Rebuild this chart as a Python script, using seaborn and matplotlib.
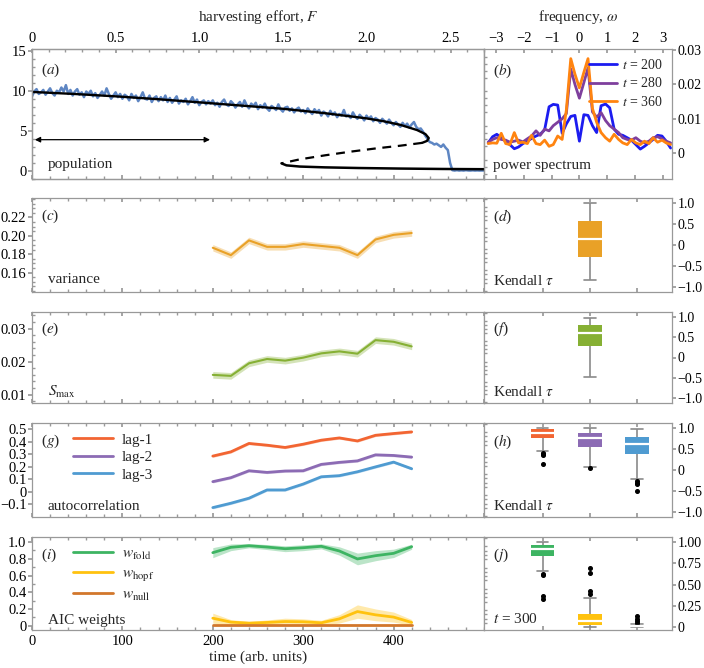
import numpy as np
import pandas as pd
import seaborn as sns
import matplotlib.pyplot as plt
from matplotlib.ticker import MultipleLocator

# (a) simulated population (every 2.5 time units) and bifurcation branches
pop_t = [i * 2.5 for i in range(201)]
pop_n = [9.3, 9.9, 10.2, 9.6, 9.8, 10.1, 9.5, 9.9, 10.3, 9.7, 9.4, 10.0, 9.8, 10.4, 9.9, 10.7, 9.6, 10.1, 9.4, 9.9,
         10.2, 9.5, 9.8, 9.2, 9.9, 9.6, 10.0, 9.3, 9.7, 9.1, 9.5, 9.9, 9.4, 10.3, 9.6, 9.0, 9.4, 9.8, 9.2, 9.6,
         9.0, 9.5, 9.3, 8.8, 9.6, 9.1, 9.4, 8.7, 9.2, 9.8, 9.0, 8.9, 9.4, 8.6, 9.1, 9.3, 8.7, 9.2, 8.8, 9.4,
         8.6, 9.1, 8.5, 8.9, 9.3, 8.4, 8.8, 8.6, 9.0, 8.3, 8.7, 9.2, 8.5, 8.9, 8.2, 8.6, 8.8, 8.3, 8.7, 8.4,
         8.8, 8.2, 8.5, 8.0, 8.6, 8.9, 8.3, 8.1, 8.7, 8.4, 7.9, 8.3, 8.6, 8.0, 8.8, 8.2, 7.8, 8.4, 8.1, 8.5,
         7.7, 8.2, 7.9, 8.4, 7.8, 7.5, 8.1, 7.9, 7.6, 8.3, 7.7, 7.4, 7.9, 8.0, 7.5, 7.8, 7.3, 7.7, 7.9, 7.4,
         7.6, 7.2, 7.8, 7.4, 7.1, 7.7, 7.3, 7.6, 6.9, 7.4, 7.2, 6.8, 7.5, 7.0, 7.3, 6.7, 7.1, 6.9, 7.6, 6.8,
         7.0, 6.6, 7.3, 6.8, 6.5, 7.0, 6.7, 6.3, 6.9, 6.5, 6.8, 6.2, 6.6, 6.4, 6.0, 6.5, 6.2, 5.9, 6.4, 6.0,
         5.7, 6.1, 5.8, 5.5, 6.0, 5.6, 5.9, 5.4, 5.8, 6.1, 5.5, 5.2, 5.3, 4.9, 4.4, 4.0, 3.6, 3.5, 3.3, 3.4,
         3.2, 3.0, 3.3, 2.9, 2.6, 1.0, 0.1, 0.05, 0.1, 0.05, 0.08, 0.05, 0.1, 0.06, 0.05, 0.08, 0.05, 0.07, 0.05, 0.06,
         0.05]
upper_F = [0, 0.25, 0.5, 0.75, 1.0, 1.25, 1.5, 1.75, 2.0, 2.1, 2.2, 2.3, 2.35, 2.37, 2.36, 2.33]
upper_N = [9.85, 9.6, 9.3, 8.95, 8.55, 8.15, 7.75, 7.2, 6.55, 6.2, 5.75, 5.1, 4.6, 4.1, 3.75, 3.5]
unstable_F = [2.33, 2.2, 2.05, 1.9, 1.75, 1.6, 1.49]
unstable_N = [3.5, 3.15, 2.8, 2.4, 1.95, 1.45, 0.95]
lower_F = [1.49, 1.52, 1.6, 1.75, 1.95, 2.2, 2.45, 2.7]
lower_N = [0.95, 0.7, 0.55, 0.45, 0.37, 0.3, 0.25, 0.22]
window = [0, 200]

# (b) power spectra (x 1e-3)
omega = [-3.28, -3.12, -2.97, -2.81, -2.65, -2.50, -2.34, -2.19, -2.03, -1.87, -1.72,
         -1.56, -1.41, -1.25, -1.09, -0.94, -0.78, -0.62, -0.47, -0.31, -0.16, 0.0,
         0.16, 0.31, 0.47, 0.62, 0.78, 0.94, 1.09, 1.25, 1.41, 1.56, 1.72, 1.87,
         2.03, 2.19, 2.34, 2.50, 2.65, 2.81, 2.97, 3.12, 3.28]
spec_200 = [3.0, 4.8, 5.5, 4.5, 3.5, 2.5, 1.3, 1.8, 2.8, 3.5, 4.3,
            5.0, 5.5, 6.8, 13.5, 14.2, 14.0, 5.8, 8.5, 10.7, 11.0, 3.5,
            11.2, 11.0, 8.0, 6.0, 13.8, 14.3, 13.2, 7.0, 5.5, 5.2, 4.5, 3.8,
            2.5, 1.2, 2.0, 3.0, 4.0, 5.2, 5.0, 3.5, 1.5]
spec_280 = [3.2, 4.0, 4.5, 4.0, 3.8, 3.2, 3.5, 3.8, 3.3, 4.2, 5.0,
            6.5, 5.2, 7.0, 6.5, 8.0, 9.0, 10.0, 11.5, 24.5, 20.0, 16.0,
            20.5, 24.8, 12.0, 10.5, 11.8, 9.5, 8.0, 7.0, 6.0, 4.5, 4.0, 3.8,
            4.5, 3.5, 3.0, 3.5, 4.5, 4.8, 4.2, 3.5, 3.0]
spec_360 = [2.8, 3.0, 2.9, 5.8, 2.8, 2.5, 6.0, 3.0, 3.2, 2.8, 5.2,
            2.8, 2.5, 3.8, 2.0, 2.5, 5.0, 4.0, 12.5, 27.5, 23.0, 19.0,
            23.5, 27.5, 13.0, 9.0, 6.0, 4.5, 3.5, 5.5, 4.0, 3.0, 2.5, 4.0,
            3.0, 2.5, 3.5, 2.8, 4.5, 3.2, 3.8, 3.0, 2.5]

# (c, e, g, i) indicators on the rolling window
ews_t = [200, 220, 240, 260, 280, 300, 320, 340, 360, 380, 400, 420]
variance = [0.187, 0.179, 0.195, 0.188, 0.188, 0.191, 0.189, 0.187, 0.179, 0.196, 0.201, 0.203]
smax = [0.0160, 0.0157, 0.0195, 0.0208, 0.0203, 0.0212, 0.0225, 0.0231, 0.0224, 0.0265, 0.0260, 0.0246]
lag1 = [0.286, 0.320, 0.387, 0.373, 0.355, 0.381, 0.413, 0.431, 0.407, 0.452, 0.466, 0.479]
lag2 = [0.082, 0.114, 0.169, 0.156, 0.167, 0.169, 0.220, 0.236, 0.248, 0.296, 0.291, 0.278]
lag3 = [-0.125, -0.090, -0.050, 0.016, 0.016, 0.063, 0.121, 0.130, 0.161, 0.200, 0.238, 0.185]
w_fold = [0.873, 0.937, 0.956, 0.940, 0.920, 0.932, 0.949, 0.893, 0.798, 0.837, 0.865, 0.944]
w_fold_err = [0.06, 0.04, 0.025, 0.03, 0.035, 0.035, 0.03, 0.05, 0.07, 0.06, 0.05, 0.03]
w_hopf = [0.091, 0.044, 0.032, 0.040, 0.051, 0.048, 0.036, 0.083, 0.170, 0.131, 0.104, 0.040]
w_hopf_err = [0.06, 0.03, 0.02, 0.03, 0.04, 0.035, 0.03, 0.05, 0.08, 0.07, 0.06, 0.035]
w_null = [0.005] * 12

# Kendall tau distributions
tau_var = [-0.83, -0.29, 0.15, 0.57, 1.0]
tau_smax = [-0.47, 0.29, 0.61, 0.81, 0.97]
tau_lag1 = [0.15, 0.36, 0.38, 0.40, 0.45, 0.76, 0.80, 0.83, 0.85, 0.87, 0.89,
            0.91, 0.93, 0.94, 0.96, 0.97, 0.98, 0.99, 0.99, 1.0, 1.0]
tau_lag2 = [0.05, 0.08, 0.30, 0.45, 0.52, 0.56, 0.62, 0.67, 0.71, 0.74, 0.77,
            0.79, 0.82, 0.85, 0.87, 0.885, 0.91, 0.94, 0.97, 0.99, 1.0]
tau_lag3 = [-0.50, -0.34, -0.30, -0.26, -0.21, 0.38, 0.44, 0.50, 0.55, 0.58, 0.61,
            0.64, 0.68, 0.72, 0.76, 0.79, 0.83, 0.87, 0.91, 0.95, 0.97]
aic_fold = [0.33, 0.37, 0.61, 0.63, 0.66, 0.84, 0.86, 0.88, 0.89, 0.91, 0.92,
            0.93, 0.94, 0.95, 0.96, 0.965, 0.97, 0.98, 0.99, 0.995, 1.0]
aic_hopf = [0.0, 0.005, 0.01, 0.015, 0.018, 0.02, 0.03, 0.04, 0.05, 0.06, 0.07,
            0.08, 0.10, 0.12, 0.14, 0.15, 0.34, 0.39, 0.42, 0.64, 0.69]
aic_null = [0.0, 0.0, 0.001, 0.002, 0.0025, 0.003, 0.004, 0.005, 0.006, 0.007, 0.008,
            0.01, 0.012, 0.014, 0.016, 0.018, 0.035, 0.05, 0.07, 0.09, 0.13]

c_var, c_smax = '#E9A127', '#86B034'
c_lag = {'lag-1': '#F26532', 'lag-2': '#8C6BB4', 'lag-3': '#4F9BD1'}
c_aic = {'fold': '#3DB462', 'hopf': '#FFC20F', 'null': '#D2772B'}

sns.set_theme(style='ticks')
plt.rcParams['font.family'] = ['Liberation Serif', 'DejaVu Serif']
plt.rcParams['mathtext.fontset'] = 'stix'
plt.rcParams['axes.edgecolor'] = '#999999'
plt.rcParams['axes.linewidth'] = 0.9
plt.rcParams['xtick.color'] = '#999999'
plt.rcParams['ytick.color'] = '#999999'
plt.rcParams['xtick.labelcolor'] = 'black'
plt.rcParams['ytick.labelcolor'] = 'black'
plt.rcParams['xtick.labelsize'] = 10.5
plt.rcParams['ytick.labelsize'] = 10.5

fig = plt.figure(figsize=(7.04, 6.68), dpi=100)
W, H = 704, 668


def add(x0, y0, x1, y1):
    return fig.add_axes([x0 / W, 1 - y1 / H, (x1 - x0) / W, (y1 - y0) / H])


rows = [(49, 179), (198, 292), (312, 403), (423, 517), (537, 630)]
left = [add(32, r[0], 484, r[1]) for r in rows]
right = [add(484, r[0], 672, r[1]) for r in rows]
FS = 11


def tag(ax, s, x=0.02, y=0.9):
    ax.text(x, y, r'($\mathit{' + s + '}$)', transform=ax.transAxes, fontsize=FS, va='top')


def note(ax, s, x=0.04, y=0.05):
    ax.text(x, y, s, transform=ax.transAxes, fontsize=FS, va='bottom')


def style_left(ax, yt, ylab, ylim, yminor, last=False):
    ax.set_xlim(0, 500)
    ax.set_ylim(*ylim)
    ax.xaxis.set_major_locator(MultipleLocator(100))
    ax.xaxis.set_minor_locator(MultipleLocator(20))
    ax.tick_params(axis='x', which='both', direction='in', top=True, bottom=True,
                   labelbottom=last, length=3)
    ax.tick_params(axis='x', which='minor', length=2)
    ax.set_yticks(yt, ylab)
    if yminor:
        ax.yaxis.set_minor_locator(MultipleLocator(yminor))
    ax.tick_params(axis='y', which='major', direction='out', length=3, pad=1)
    ax.tick_params(axis='y', which='minor', direction='in', length=2)
    ax.set(xlabel='', ylabel='')


def style_right(ax, yt, ylab, ylim, yminor):
    ax.set_ylim(*ylim)
    ax.yaxis.tick_right()
    ax.set_yticks(yt, ylab)
    ax.yaxis.set_minor_locator(MultipleLocator(yminor))
    ax.tick_params(axis='y', which='major', direction='out', length=3, pad=1, right=True,
                   left=False, labelsize=10)
    ax.tick_params(axis='y', which='minor', direction='in', length=2, left=True, right=False)
    ax.set(xlabel='', ylabel='')


# ---- (a)
ax = left[0]
sns.lineplot(x=pop_t, y=pop_n, color='#5E86C3', lw=1.8, ax=ax)
style_left(ax, [0, 5, 10, 15], ['0', '5', '10', '15'], (-1, 15.2), 1)
ax.annotate('', xy=(window[0], 3.9), xytext=(window[1], 3.9),
            arrowprops=dict(arrowstyle='<|-|>', color='black', lw=0.9, mutation_scale=8))
tag(ax, 'a')
note(ax, 'population', 0.035, 0.06)
axF = ax.twiny()
sns.lineplot(x=upper_F, y=upper_N, sort=False, estimator=None, color='black', lw=1.7, ax=axF)
sns.lineplot(x=unstable_F, y=unstable_N, sort=False, estimator=None, color='black', lw=1.6,
             linestyle=(0, (4, 3)), ax=axF)
sns.lineplot(x=lower_F, y=lower_N, sort=False, estimator=None, color='black', lw=1.8, ax=axF)
axF.set_xlim(0, 2.7)
axF.set_xticks([0, 0.5, 1.0, 1.5, 2.0, 2.5], ['0', '0.5', '1.0', '1.5', '2.0', '2.5'])
axF.xaxis.set_minor_locator(MultipleLocator(0.1))
axF.tick_params(axis='x', which='both', direction='in', length=3, pad=3)
axF.tick_params(axis='x', which='minor', length=2)
axF.set_xlabel('harvesting effort, $F$', fontsize=FS, labelpad=8)

# ---- (b)
ax = right[0]
spec = pd.DataFrame({'omega': omega * 3,
                     'power': [v / 1000 for v in spec_200 + spec_280 + spec_360],
                     't': ['$t$ = 200'] * 43 + ['$t$ = 280'] * 43 + ['$t$ = 360'] * 43})
sns.lineplot(data=spec, x='omega', y='power', hue='t', sort=False, estimator=None,
             palette=['#1C1CF0', '#7E3F9D', '#FF8410'], lw=2, ax=ax)
sns.move_legend(ax, 'upper right', bbox_to_anchor=(1.02, 1.03), frameon=False, title=None,
                fontsize=10, handlelength=2.0, labelspacing=0.35, handletextpad=0.4)
ax.set_xlim(-3.43, 3.33)
ax.xaxis.tick_top()
ax.set_xticks([-3, -2, -1, 0, 1, 2, 3], ['\u22123', '\u22122', '\u22121', '0', '1', '2', '3'])
ax.xaxis.set_label_position('top')
ax.tick_params(axis='x', which='both', direction='in', top=True, bottom=True, length=3, pad=3)
style_right(ax, [0, 0.01, 0.02, 0.03], ['0', '0.01', '0.02', '0.03'], (-0.0075, 0.0303), 0.002)
ax.set_xlabel('frequency, $\\omega$', fontsize=FS, labelpad=8)
tag(ax, 'b', 0.05)
note(ax, 'power spectrum', 0.05, 0.05)

# ---- (c) variance, (e) Smax
ax = left[1]
sns.lineplot(x=ews_t, y=variance, color=c_var, lw=1.5, ax=ax)
ax.fill_between(ews_t, [v - 0.0035 for v in variance], [v + 0.0035 for v in variance],
                color=c_var, alpha=0.35, lw=0)
style_left(ax, [0.16, 0.18, 0.20, 0.22], ['0.16', '0.18', '0.20', '0.22'], (0.139, 0.241), 0.005)
tag(ax, 'c')
note(ax, 'variance', 0.035, 0.06)

ax = left[2]
sns.lineplot(x=ews_t, y=smax, color=c_smax, lw=1.5, ax=ax)
ax.fill_between(ews_t, [v - 0.001 for v in smax], [v + 0.001 for v in smax],
                color=c_smax, alpha=0.35, lw=0)
style_left(ax, [0.01, 0.02, 0.03], ['0.01', '0.02', '0.03'], (0.0075, 0.035), 0.002)
tag(ax, 'e')
note(ax, '$S_{\\mathrm{max}}$', 0.035, 0.03)

# ---- (g) autocorrelation
ax = left[3]
for name, vals in zip(['lag-1', 'lag-2', 'lag-3'], [lag1, lag2, lag3]):
    sns.lineplot(x=ews_t, y=vals, color=c_lag[name], lw=2, label=name, ax=ax)
    ax.fill_between(ews_t, [v - 0.01 for v in vals], [v + 0.01 for v in vals],
                    color=c_lag[name], alpha=0.35, lw=0)
ax.legend(loc='upper left', bbox_to_anchor=(0.06, 1.04), frameon=False, fontsize=11,
          handlelength=2.6, labelspacing=0.25, handletextpad=0.6)
style_left(ax, [-0.1, 0, 0.1, 0.2, 0.3, 0.4, 0.5],
           ['\u22120.1', '0', '0.1', '0.2', '0.3', '0.4', '0.5'], (-0.2, 0.55), None)
tag(ax, 'g')
note(ax, 'autocorrelation', 0.035, 0.04)

# ---- (i) AIC weights
ax = left[4]
for name, vals, err in zip(['fold', 'hopf', 'null'], [w_fold, w_hopf, w_null],
                           [w_fold_err, w_hopf_err, [0.003] * 12]):
    sns.lineplot(x=ews_t, y=vals, color=c_aic[name], lw=2,
                 label='$w_{\\mathrm{' + name + '}}$', ax=ax)
    ax.fill_between(ews_t, [v - e for v, e in zip(vals, err)], [v + e for v, e in zip(vals, err)],
                    color=c_aic[name], alpha=0.35, lw=0)
ax.legend(loc='upper left', bbox_to_anchor=(0.06, 1.04), frameon=False, fontsize=11,
          handlelength=2.6, labelspacing=0.3, handletextpad=0.6)
style_left(ax, [0, 0.2, 0.4, 0.6, 0.8, 1.0], ['0', '0.2', '0.4', '0.6', '0.8', '1.0'],
           (-0.05, 1.06), 0.1, last=True)
ax.set_xticks([0, 100, 200, 300, 400], ['0', '100', '200', '300', '400'])
ax.set_xlabel('time (arb. units)', fontsize=FS, labelpad=2)
tag(ax, 'i')
note(ax, 'AIC weights', 0.035, 0.03)

# ---- box plots
box_kw = dict(width=0.5, saturation=1, linecolor='#8a8a8a', linewidth=1.2, whis=1.5,
              medianprops=dict(color='white', linewidth=1.6),
              boxprops=dict(edgecolor='none'),
              flierprops=dict(marker='o', markerfacecolor='black', markeredgecolor='black',
                              markersize=2.6))
tau_ticks = [-1.0, -0.5, 0, 0.5, 1.0]
tau_labels = ['\u22121.0', '\u22120.5', '0', '0.5', '1.0']


def boxpanel(ax, groups, palette, ylim, yt, ylab):
    df = pd.DataFrame([(k, v) for k, vals in groups for v in vals], columns=['g', 'v'])
    order = ['L', 'M', 'R']
    sns.boxplot(data=df, x='g', y='v', hue='g', order=order, hue_order=order,
                palette=palette, legend=False, ax=ax, **box_kw)
    ax.set_xlim(-1.24, 2.74)
    ax.set_xticks([0, 1, 2], ['', '', ''])
    ax.tick_params(axis='x', which='both', direction='in', top=True, bottom=True, length=3)
    style_right(ax, yt, ylab, ylim, 0.1 if ylim[1] > 1.1 else 0.05)


pal = {'L': '#999999', 'M': c_var, 'R': '#999999'}
boxpanel(right[1], [('M', tau_var)], pal, (-1.12, 1.12), tau_ticks, tau_labels)
tag(right[1], 'd', 0.05)
note(right[1], 'Kendall $\\tau$', 0.05, 0.04)
pal = {'L': '#999999', 'M': c_smax, 'R': '#999999'}
boxpanel(right[2], [('M', tau_smax)], pal, (-1.12, 1.12), tau_ticks, tau_labels)
tag(right[2], 'f', 0.05)
note(right[2], 'Kendall $\\tau$', 0.05, 0.04)
pal = {'L': c_lag['lag-1'], 'M': c_lag['lag-2'], 'R': c_lag['lag-3']}
boxpanel(right[3], [('L', tau_lag1), ('M', tau_lag2), ('R', tau_lag3)], pal,
         (-1.12, 1.12), tau_ticks, tau_labels)
tag(right[3], 'h', 0.05)
note(right[3], 'Kendall $\\tau$', 0.05, 0.04)
pal = {'L': c_aic['fold'], 'M': c_aic['hopf'], 'R': c_aic['null']}
boxpanel(right[4], [('L', aic_fold), ('M', aic_hopf), ('R', aic_null)], pal,
         (-0.035, 1.06), [0, 0.25, 0.5, 0.75, 1.0], ['0', '0.25', '0.50', '0.75', '1.00'])
tag(right[4], 'j', 0.05)
note(right[4], '$t$ = 300', 0.05, 0.04)

fig.savefig('out.png', dpi=100)
